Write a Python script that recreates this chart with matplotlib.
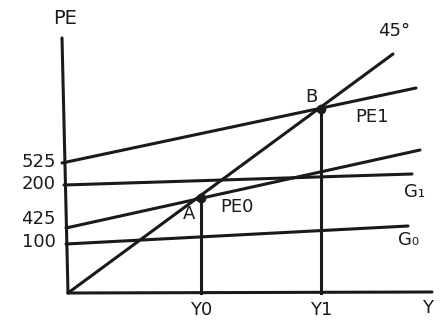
import matplotlib
matplotlib.use("Agg")
import matplotlib.pyplot as plt

# Hand-drawn diagram, coordinates in drawing units (origin at axes corner)
line_names = ["45°", "PE1", "PE0", "G1", "G0"]
x_start = [0, -6, -2, -4, -2]
y_start = [0, 130, 65, 108, 49]
x_end = [325, 348, 352, 344, 340]
y_end = [239, 205, 143, 119, 67]

point_names = ["A", "B"]
point_x = [133, 253]
point_y = [95, 184]

ytick_labels = ["525", "200", "425", "100"]
ytick_y = [130, 108, 73, 50]
xtick_labels = ["Y0", "Y1"]

fig = plt.figure(figsize=(4.43, 3.36), dpi=100)
ax = fig.add_axes([0, 0, 1, 1])
ax.set_xlim(-68, 443 - 68)
ax.set_ylim(-(336 - 293), 293)
ax.axis("off")

lw = 2.2
col = "#1a1a1a"
# axes
ax.plot([-6, 0], [255, 0], color=col, lw=lw, solid_capstyle="round")
ax.plot([0, 364], [0, 1], color=col, lw=lw, solid_capstyle="round")

for xs, ys, xe, ye in zip(x_start, y_start, x_end, y_end):
    ax.plot([xs, xe], [ys, ye], color=col, lw=lw, solid_capstyle="round")

for px, py in zip(point_x, point_y):
    ax.plot([px, px], [py, 0], color=col, lw=lw)
    ax.plot(px, py, "o", color=col, ms=6)

fs = 13
ax.text(-15, 274, "PE", fontsize=fs + 1, ha="left", va="center", color=col)
ax.text(310, 262, "45°", fontsize=fs, ha="left", va="center", color=col)
ax.text(point_x[1] - 10, 196, point_names[1], fontsize=fs, ha="center", va="center", color=col)
ax.text(287, 176, "PE1", fontsize=fs, ha="left", va="center", color=col)
ax.text(point_x[0] - 12, 79, point_names[0], fontsize=fs, ha="center", va="center", color=col)
ax.text(152, 86, "PE0", fontsize=fs, ha="left", va="center", color=col)
ax.text(336, 101, "G₁", fontsize=fs, ha="left", va="center", color=col)
ax.text(330, 53, "G₀", fontsize=fs, ha="left", va="center", color=col)

for lab, yy in zip(ytick_labels, ytick_y):
    ax.text(-12, yy + 1, lab, fontsize=fs, ha="right", va="center", color=col)

for lab, px in zip(xtick_labels, point_x):
    ax.text(px, -17, lab, fontsize=fs, ha="center", va="center", color=col)
ax.text(360, -15, "Y", fontsize=fs, ha="center", va="center", color=col)

fig.savefig("out.png", dpi=100)
